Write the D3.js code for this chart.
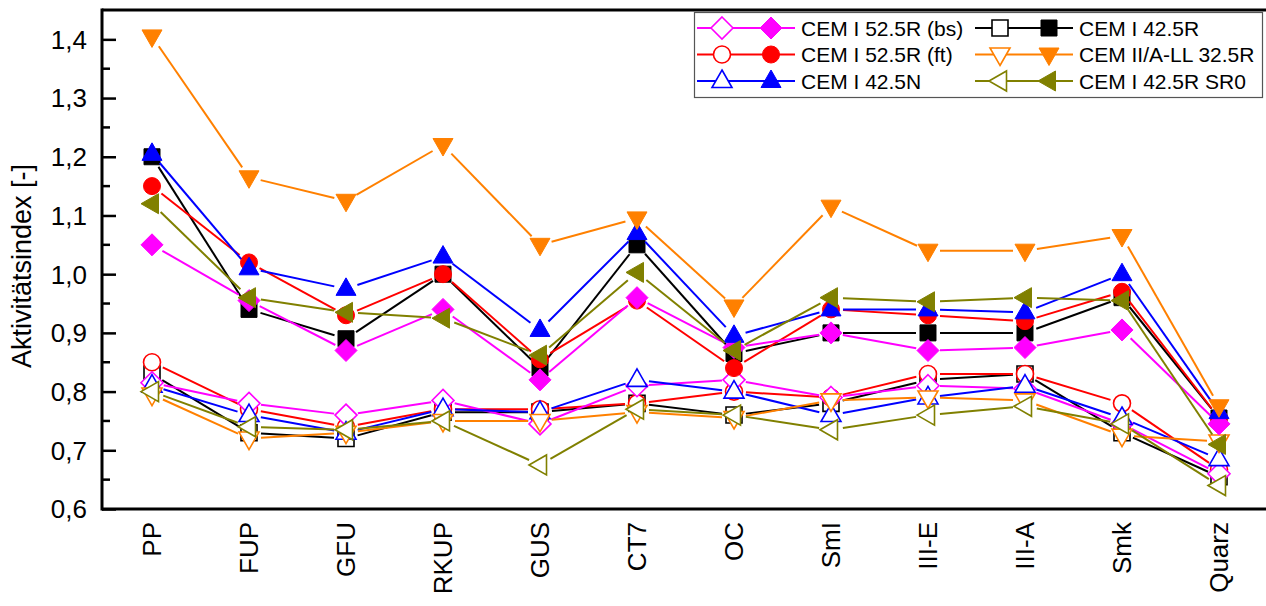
<!DOCTYPE html>
<html><head><meta charset="utf-8">
<script src="https://cdn.jsdelivr.net/npm/d3@7"></script>
<style>html,body{margin:0;padding:0;background:#fff;}svg{display:block;font-family:"Liberation Sans",Arial,sans-serif;}</style>
</head><body>
<svg id="c" width="1266" height="606"></svg>
<script>
const categories = ["PP","FUP","GFU","RKUP","GUS","CT7","OC","SmI","III-E","III-A","Smk","Quarz"];
const yTicks = [0.6,0.7,0.8,0.9,1.0,1.1,1.2,1.3,1.4];
const yTickLabels = ["0,6","0,7","0,8","0,9","1,0","1,1","1,2","1,3","1,4"];
const yTitle = "Aktivitätsindex [-]";
const seriesNames = ["CEM I 52.5R (bs)","CEM I 52.5R (ft)","CEM I 42.5N","CEM I 42.5R","CEM II/A-LL 32.5R","CEM I 42.5R SR0"];
const seriesColors = ["#ff00ff","#ff0000","#0000ff","#000000","#ff8000","#808000"];
const seriesShapes = ["diamond","circle","triUp","square","triDown","triLeft"];
// open-symbol series
const openBs   = [0.815,0.78,0.76,0.785,0.745,0.81,0.82,0.79,0.81,0.805,0.745,0.66];
const openFt   = [0.85,0.77,0.74,0.77,0.77,0.78,0.80,0.79,0.83,0.83,0.78,0.667];
const openN    = [0.81,0.76,0.73,0.77,0.765,0.82,0.80,0.76,0.79,0.81,0.755,0.685];
const openR    = [0.83,0.73,0.72,0.765,0.765,0.78,0.76,0.78,0.82,0.83,0.73,0.655];
const openLL   = [0.795,0.72,0.73,0.75,0.75,0.765,0.755,0.785,0.79,0.785,0.725,0.715];
const openSR0  = [0.80,0.74,0.735,0.75,0.675,0.77,0.76,0.735,0.76,0.775,0.745,0.64];
// filled-symbol series
const fillBs   = [1.05,0.955,0.87,0.94,0.82,0.96,0.875,0.90,0.87,0.875,0.905,0.745];
const fillFt   = [1.15,1.02,0.93,1.00,0.855,0.955,0.84,0.94,0.93,0.92,0.97,0.755];
const fillN    = [1.205,1.01,0.975,1.03,0.905,1.07,0.895,0.94,0.94,0.935,1.0,0.765];
const fillR    = [1.20,0.94,0.89,1.00,0.84,1.05,0.865,0.90,0.90,0.90,0.96,0.755];
const fillLL   = [1.405,1.165,1.125,1.22,1.05,1.095,0.945,1.115,1.04,1.04,1.065,0.775];
const fillSR0  = [1.12,0.96,0.935,0.925,0.862,1.003,0.87,0.96,0.953,0.96,0.955,0.71];

const openData = [openBs,openFt,openN,openR,openLL,openSR0];
const fillData = [fillBs,fillFt,fillN,fillR,fillLL,fillSR0];
const drawOrder = [3,1,0,2,4,5];

const svg = d3.select("#c");
const pLeft = 102, pTop = 10, pBottom = 509;
const x = d3.scaleLinear().domain([0.4845, 12.5155]).range([pLeft, 1269]);
const y = d3.scaleLinear().domain([0.6, 1.45]).range([pBottom, pTop]);

function shapePath(shape) {
  switch (shape) {
    case "diamond": return "M0,-11L11,0L0,11L-11,0Z";
    case "square": return "M-8,-8L8,-8L8,8L-8,8Z";
    case "circle": return d3.symbol(d3.symbolCircle, Math.PI*8.5*8.5)();
    case "triUp": return "M0,-11L10,6.5L-10,6.5Z";
    case "triDown": return "M0,11L10,-6.5L-10,-6.5Z";
    case "triLeft": return "M-11,0L6.5,-10L6.5,10Z";
  }
}

const gap = 12;
function drawSeries(g, vals, color, shape, filled) {
  const pts = vals.map((v,i)=>[x(i+1), y(v)]);
  for (let i=0;i<pts.length-1;i++){
    const [x0,y0]=pts[i],[x1,y1]=pts[i+1];
    const dx=x1-x0, dy=y1-y0, L=Math.hypot(dx,dy);
    if (L<=2*gap) continue;
    const ux=dx/L, uy=dy/L;
    g.append("line").attr("x1",x0+ux*gap).attr("y1",y0+uy*gap)
      .attr("x2",x1-ux*gap).attr("y2",y1-uy*gap)
      .attr("stroke",color).attr("stroke-width",2);
  }
  g.selectAll(null).data(pts).enter().append("path")
    .attr("d",shapePath(shape))
    .attr("transform",d=>`translate(${d[0]},${d[1]})`)
    .attr("fill",filled?color:"#fff")
    .attr("stroke",color).attr("stroke-width",filled?1:1.6);
}

const plot = svg.append("g");
drawOrder.forEach(k=>drawSeries(plot.append("g"), openData[k], seriesColors[k], seriesShapes[k], false));
drawOrder.forEach(k=>drawSeries(plot.append("g"), fillData[k], seriesColors[k], seriesShapes[k], true));

// frame
svg.append("line").attr("x1",pLeft).attr("x2",1266).attr("y1",pTop).attr("y2",pTop).attr("stroke","#000").attr("stroke-width",3);
svg.append("line").attr("x1",pLeft).attr("x2",1266).attr("y1",pBottom).attr("y2",pBottom).attr("stroke","#000").attr("stroke-width",3);

// y axis
const yAxis = d3.axisRight(y).tickValues(yTicks).tickSize(14).tickFormat("");
const ya = svg.append("g").attr("transform",`translate(${pLeft},0)`).call(yAxis);
ya.select(".domain").attr("stroke-width",3).attr("d",`M0,${pTop-1.5}V${pBottom+1.5}`);
ya.selectAll(".tick line").attr("stroke-width",2.5);
const minor = d3.range(0.65,1.45,0.1);
ya.selectAll(".minor").data(minor).enter().append("line")
  .attr("x1",0).attr("x2",8).attr("y1",d=>y(d)).attr("y2",d=>y(d))
  .attr("stroke","#000").attr("stroke-width",2.5);
svg.selectAll(".ylab").data(yTicks).enter().append("text")
  .attr("x",87).attr("y",d=>y(d)).attr("dy","0.36em")
  .attr("text-anchor","end").attr("font-size",26).text((d,i)=>yTickLabels[i]);
svg.append("text").attr("transform","translate(31,266) rotate(-90)")
  .attr("text-anchor","middle").attr("font-size",27).text(yTitle);

// x labels
svg.selectAll(".xlab").data(categories).enter().append("text")
  .attr("transform",(d,i)=>`translate(${x(i+1)+9},522) rotate(-90)`)
  .attr("text-anchor","end").attr("font-size",26).text(d=>d);

// legend
const lg = svg.append("g");
lg.append("rect").attr("x",694.5).attr("y",12.5).attr("width",568).attr("height",85)
  .attr("fill","#fff").attr("stroke","#555").attr("stroke-width",1.2);
const cols = [697, 975], rows = [28, 54.5, 81];
seriesNames.forEach((name,k)=>{
  const cx = cols[Math.floor(k/3)], cy = rows[k%3];
  const c = seriesColors[k];
  lg.append("line").attr("x1",cx).attr("x2",cx+98).attr("y1",cy).attr("y2",cy).attr("stroke",c).attr("stroke-width",2);
  lg.append("path").attr("d",shapePath(seriesShapes[k])).attr("transform",`translate(${cx+25},${cy})`)
    .attr("fill","#fff").attr("stroke",c).attr("stroke-width",1.6);
  lg.append("path").attr("d",shapePath(seriesShapes[k])).attr("transform",`translate(${cx+74},${cy})`)
    .attr("fill",c).attr("stroke",c).attr("stroke-width",1);
  lg.append("text").attr("x",cx+104).attr("y",cy).attr("dy","0.36em").attr("font-size",21).text(name);
});
</script>
</body></html>
